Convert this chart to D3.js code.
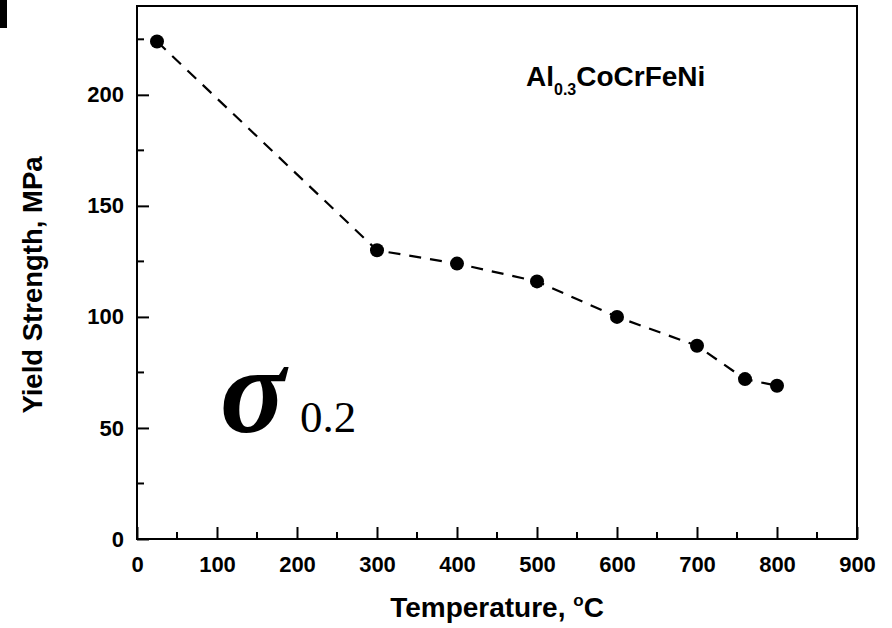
<!DOCTYPE html>
<html>
<head>
<meta charset="utf-8">
<script src="https://cdn.jsdelivr.net/npm/d3@7"></script>
<style>
  body { margin: 0; background: #fff; }
  text { font-family: "Liberation Sans", Arial, sans-serif; font-weight: bold; fill: #000; }
</style>
</head>
<body>
<div id="vis"></div>
<script>
var temperature = [25, 300, 400, 500, 600, 700, 760, 800];
var yieldStrength = [224, 130, 124, 116, 100, 87, 72, 69];
var xMajorTicks = [0, 100, 200, 300, 400, 500, 600, 700, 800, 900];
var xMinorTicks = [50, 150, 250, 350, 450, 550, 650, 750, 850];
var yMajorTicks = [0, 50, 100, 150, 200];
var yMinorTicks = [25, 75, 125, 175, 225];

var width  = 892;
var height = 628;
var margin = { left: 137, top: 6, right: 35, bottom: 89 };

var x = d3.scaleLinear().domain([0, 900]).range([margin.left, width - margin.right]);
var y = d3.scaleLinear().domain([0, 240]).range([height - margin.bottom, margin.top]);

var svg = d3.select("#vis").append("svg")
  .attr("width", width)
  .attr("height", height);

// cropped corner from the original figure
svg.append("rect").attr("x", 0).attr("y", 0).attr("width", 7).attr("height", 28).attr("fill", "#000");

// axes (ticks point inward)
var xAxis = svg.append("g")
  .attr("transform", "translate(0," + y(0) + ")")
  .call(d3.axisBottom(x).tickValues(xMajorTicks).tickSizeInner(-12).tickSizeOuter(0).tickPadding(17));
xAxis.append("g").selectAll("line").data(xMinorTicks).enter().append("line")
  .attr("x1", function(d) { return x(d); }).attr("x2", function(d) { return x(d); })
  .attr("y1", 0).attr("y2", -7);

var yAxis = svg.append("g")
  .attr("transform", "translate(" + x(0) + ",0)")
  .call(d3.axisLeft(y).tickValues(yMajorTicks).tickSizeInner(-12).tickSizeOuter(0).tickPadding(13));
yAxis.append("g").selectAll("line").data(yMinorTicks).enter().append("line")
  .attr("y1", function(d) { return y(d); }).attr("y2", function(d) { return y(d); })
  .attr("x1", 0).attr("x2", 7);

svg.selectAll(".domain").remove();
svg.selectAll(".tick line, g > g > line").attr("stroke", "#000").attr("stroke-width", 2);
svg.selectAll(".tick text")
  .style("font-size", "22px")
  .style("font-family", "'Liberation Sans', Arial, sans-serif")
  .style("font-weight", "bold");

// frame
svg.append("rect")
  .attr("x", x(0)).attr("y", y(240))
  .attr("width", x(900) - x(0)).attr("height", y(0) - y(240))
  .attr("fill", "none").attr("stroke", "#000").attr("stroke-width", 2);

// data
var line = d3.line()
  .x(function(d, i) { return x(temperature[i]); })
  .y(function(d) { return y(d); });

svg.append("path")
  .datum(yieldStrength)
  .attr("d", line)
  .attr("fill", "none")
  .attr("stroke", "#000")
  .attr("stroke-width", 2.2)
  .attr("stroke-dasharray", "12,9");

svg.selectAll("circle.pt").data(yieldStrength).enter().append("circle")
  .attr("class", "pt")
  .attr("cx", function(d, i) { return x(temperature[i]); })
  .attr("cy", function(d) { return y(d); })
  .attr("r", 7)
  .attr("fill", "#000");

// axis titles
var xt = svg.append("text")
  .attr("x", (x(0) + x(900)) / 2)
  .attr("y", 617)
  .attr("text-anchor", "middle")
  .style("font-size", "28px");
xt.append("tspan").text("Temperature, ");
xt.append("tspan").attr("dy", -11).style("font-size", "17px").text("o");
xt.append("tspan").attr("dy", 11).text("C");

svg.append("text")
  .attr("transform", "translate(42,285) rotate(-90)")
  .attr("text-anchor", "middle")
  .style("font-size", "27.5px")
  .text("Yield Strength, MPa");

// annotation
var ann = svg.append("text")
  .attr("x", 526).attr("y", 86)
  .style("font-size", "28px");
ann.append("tspan").text("Al");
ann.append("tspan").attr("dy", 9).style("font-size", "16px").text("0.3");
ann.append("tspan").attr("dy", -9).text("CoCrFeNi");

var sig = svg.append("text")
  .attr("x", 220).attr("y", 432)
  .style("font-family", "'Liberation Serif', 'Times New Roman', serif");
sig.append("tspan").style("font-size", "122px").style("font-style", "italic").style("font-weight", "bold").text("σ");
sig.append("tspan").attr("x", 300).style("font-size", "45px").style("font-weight", "normal").text("0.2");
</script>
</body>
</html>
